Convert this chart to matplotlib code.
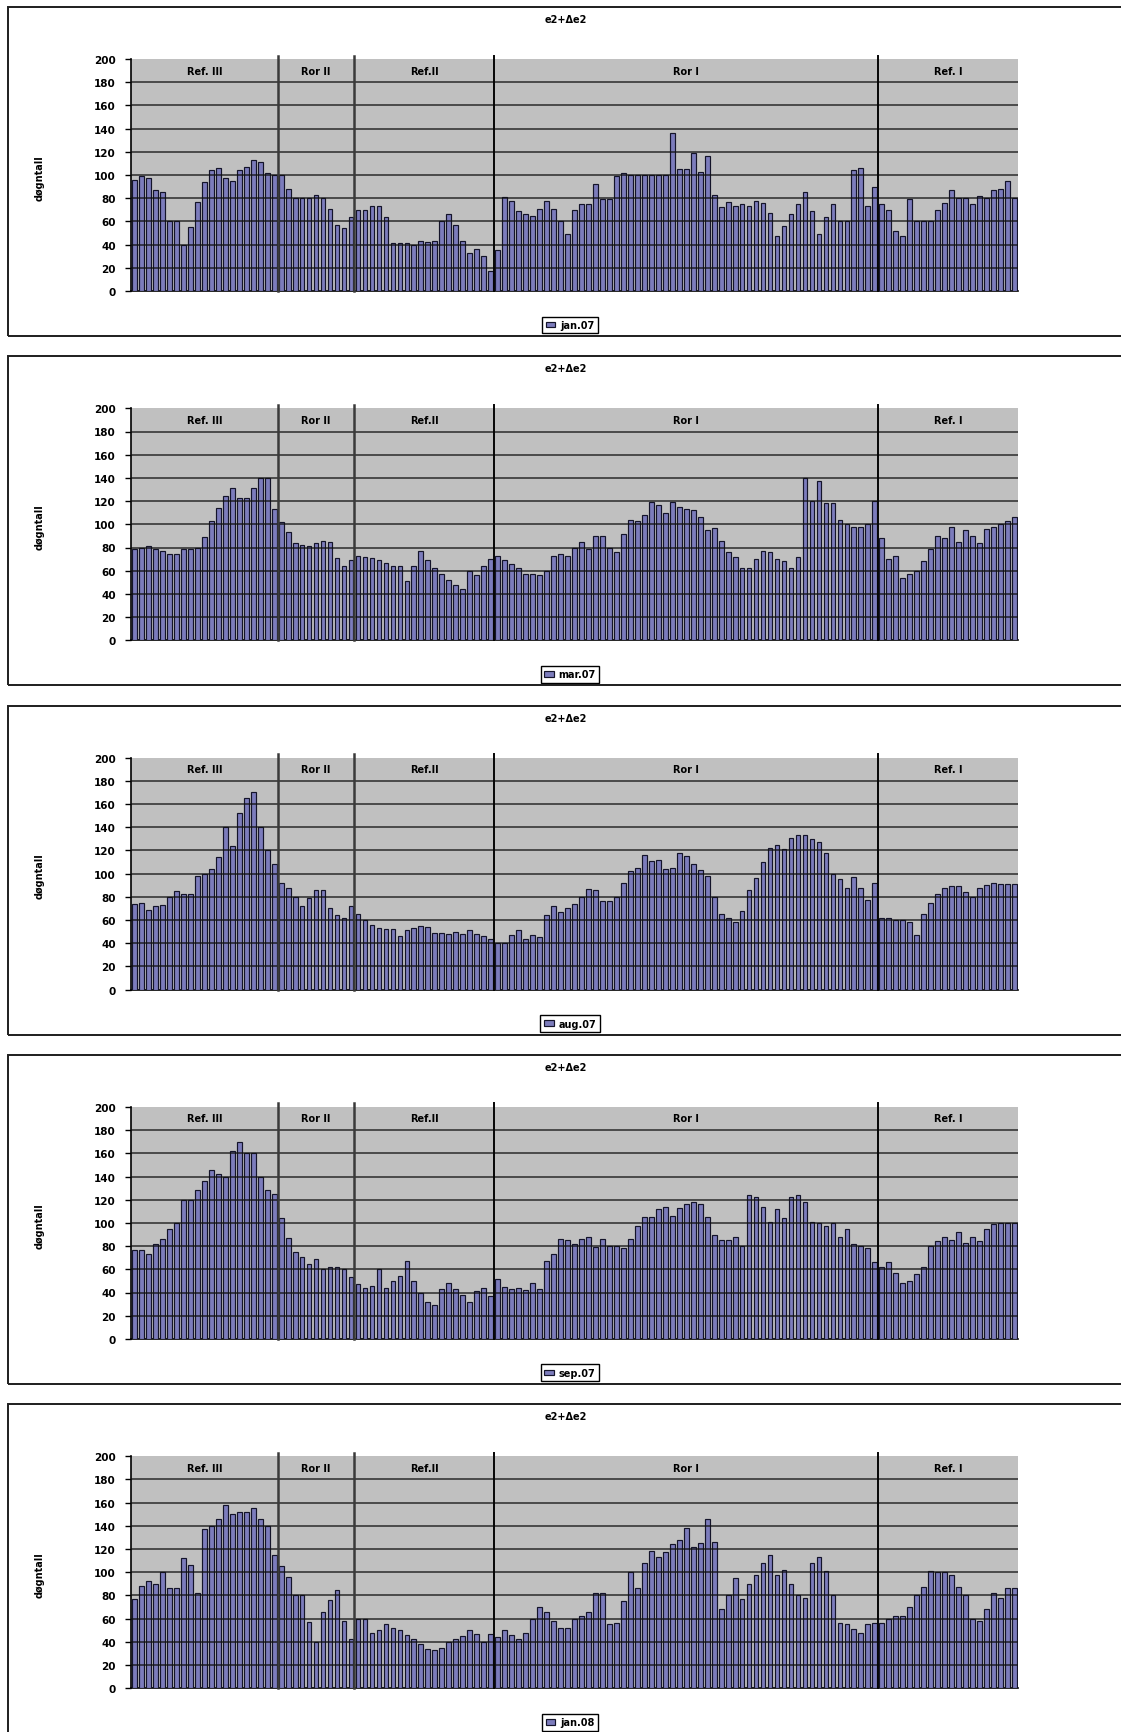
import matplotlib
matplotlib.use("Agg")
import matplotlib.pyplot as plt
from matplotlib.patches import Rectangle
import numpy as np

# Measurement sections along the route and how many points each holds
regions = ["Ref. III", "Ror II", "Ref.II", "Ror I", "Ref. I"]
region_sizes = [21, 11, 20, 55, 20]

months = ["jan.07", "mar.07", "aug.07", "sep.07", "jan.08"]
chart_title = "e2+Δe2"
y_label = "døgntall"
y_ticks = [0, 20, 40, 60, 80, 100, 120, 140, 160, 180, 200]

jan07 = [96, 99, 97, 87, 85, 60, 60, 40, 55, 77, 94, 104, 106, 97, 95, 104, 107, 113, 111, 102, 100,
         100, 88, 80, 80, 80, 83, 80, 71, 57, 54, 64,
         70, 70, 73, 73, 64, 41, 41, 41, 40, 43, 42, 43, 60, 66, 57, 43, 33, 36, 30, 17,
         35, 81, 78, 69, 66, 65, 71, 78, 71, 60, 49, 70, 75, 75, 92, 79, 79, 99, 102, 100,
         100, 100, 100, 100, 100, 136, 105, 105, 119, 103, 116, 83, 72, 77, 73, 75, 73, 78, 76, 67,
         47, 56, 66, 75, 85, 69, 49, 64, 75, 60, 60, 104, 106, 73, 90,
         75, 70, 52, 47, 79, 60, 60, 60, 70, 76, 87, 80, 80, 75, 82, 80, 87, 88, 95, 80]

mar07 = [79, 80, 81, 79, 77, 74, 74, 79, 79, 80, 89, 103, 114, 124, 131, 123, 123, 131, 140, 140, 113,
         102, 93, 84, 82, 81, 84, 86, 85, 71, 64, 69,
         73, 72, 71, 69, 67, 64, 64, 51, 64, 77, 69, 62, 57, 52, 48, 44, 60, 56, 64, 70,
         73, 69, 66, 62, 57, 57, 56, 60, 73, 74, 73, 80, 85, 79, 90, 90, 80, 76, 92, 104,
         103, 108, 119, 117, 110, 119, 115, 113, 112, 106, 95, 97, 86, 76, 72, 62, 62, 70, 77, 76,
         70, 68, 62, 72, 140, 120, 137, 118, 118, 104, 100, 98, 98, 100, 120,
         88, 70, 73, 54, 57, 60, 68, 79, 90, 88, 98, 85, 95, 90, 84, 96, 98, 100, 103, 106]

aug07 = [74, 75, 69, 72, 73, 80, 85, 82, 82, 98, 100, 104, 114, 140, 124, 152, 165, 170, 140, 120, 108,
         92, 88, 80, 72, 79, 86, 86, 70, 64, 62, 72,
         65, 60, 56, 53, 52, 52, 46, 51, 53, 55, 54, 49, 49, 48, 50, 48, 51, 48, 46, 44,
         40, 40, 47, 51, 44, 47, 45, 64, 72, 67, 70, 74, 80, 87, 86, 76, 76, 80, 92, 102,
         105, 116, 111, 112, 104, 105, 118, 115, 108, 103, 98, 80, 65, 62, 58, 68, 86, 96, 110, 122,
         125, 121, 131, 133, 133, 130, 127, 118, 100, 95, 88, 97, 88, 77, 92,
         62, 62, 60, 60, 58, 47, 65, 75, 82, 88, 89, 89, 84, 80, 88, 90, 92, 91, 91, 91]

sep07 = [77, 77, 73, 82, 86, 95, 100, 120, 120, 128, 136, 146, 142, 140, 162, 170, 160, 160, 140, 128, 125,
         104, 87, 75, 71, 65, 69, 60, 62, 62, 60, 53,
         47, 44, 46, 60, 44, 50, 54, 67, 50, 40, 32, 29, 43, 48, 43, 38, 32, 41, 44, 37,
         52, 45, 43, 44, 42, 48, 43, 67, 73, 86, 85, 82, 86, 88, 79, 86, 80, 80, 78, 86,
         97, 105, 105, 112, 114, 106, 113, 116, 118, 116, 105, 90, 85, 85, 88, 80, 124, 122, 114, 101,
         112, 104, 122, 124, 118, 101, 100, 97, 100, 88, 95, 82, 80, 78, 66,
         62, 66, 57, 48, 50, 56, 62, 80, 84, 88, 85, 92, 83, 88, 84, 95, 99, 100, 100, 100]

jan08 = [77, 88, 92, 90, 100, 86, 86, 112, 106, 82, 137, 140, 146, 158, 150, 152, 152, 155, 146, 140, 115,
         105, 96, 80, 80, 57, 40, 66, 76, 85, 58, 42,
         60, 60, 48, 50, 55, 52, 50, 46, 42, 38, 34, 33, 35, 40, 42, 45, 50, 47, 40, 47,
         44, 50, 46, 42, 48, 60, 70, 66, 58, 52, 52, 60, 62, 66, 82, 82, 55, 56, 75, 100,
         86, 108, 118, 113, 117, 124, 128, 138, 122, 125, 146, 126, 68, 80, 95, 77, 90, 98, 108, 115,
         98, 102, 90, 80, 78, 108, 113, 101, 80, 56, 55, 51, 48, 55, 56,
         56, 60, 62, 62, 70, 80, 87, 101, 100, 100, 98, 87, 80, 60, 58, 68, 82, 78, 86, 86]

series = [jan07, mar07, aug07, sep07, jan08]

plt.rcParams["font.family"] = ["DejaVu Sans"]
plt.rcParams["font.weight"] = "bold"

W, H = 1121, 1733
fig = plt.figure(figsize=(W / 100, H / 100), dpi=100)
fig.patch.set_facecolor("white")

PANEL_H = 349.3
bounds = np.cumsum(region_sizes)
dividers = bounds[:-1] - 0.5
starts = np.concatenate([[0], bounds[:-1]])
centers = (starts + bounds - 1) / 2.0

for k, (vals, month) in enumerate(zip(series, months)):
    off = k * PANEL_H
    # outer chart frame (open to the right edge)
    fig.add_artist(Rectangle((8 / W, 1 - (337 + off) / H), (W + 40) / W, 329 / H,
                             transform=fig.transFigure, fill=False,
                             ec="#1e1e1e", lw=1.4))

    ax = fig.add_axes([131 / W, 1 - (292 + off) / H, 887 / W, 232 / H])
    ax.set_facecolor("#c0c0c0")
    x = np.arange(len(vals))
    ax.bar(x, vals, width=0.68, color="#7c7cbc", edgecolor="#14142a",
           linewidth=0.85, zorder=3, label=month)
    for t in y_ticks[1:-1]:
        ax.axhline(t, color="#101010", lw=1.1, zorder=4, alpha=0.85)

    for i, d in enumerate(dividers):
        ax.plot([d, d], [0, 203], color="#3a3a3a" if i < 2 else "#050505",
                lw=1.8 if i < 2 else 1.4, zorder=5, clip_on=False)
    for c, name in zip(centers, regions):
        ax.text(c, 190, name, ha="center", va="center", fontsize=7,
                fontweight="bold", zorder=6)

    ax.set_xlim(-0.5, len(vals) - 0.5)
    ax.set_ylim(0, 200)
    ax.set_yticks(y_ticks)
    ax.set_yticklabels([str(t) for t in y_ticks], fontsize=7.5, fontweight="bold")
    ax.set_xticks([])
    ax.tick_params(axis="y", length=4, width=1.0, pad=7, color="black")
    for side in ("top", "right"):
        ax.spines[side].set_visible(False)
    for side in ("left", "bottom"):
        ax.spines[side].set_color("black")
        ax.spines[side].set_linewidth(1.2)

    fig.text(566 / W, 1 - (20 + off) / H, chart_title, ha="center", va="center",
             fontsize=7, fontweight="bold")
    fig.text(40 / W, 1 - (178 + off) / H, y_label, rotation=90, ha="center",
             va="center", fontsize=7, fontweight="bold")

    leg = ax.legend(loc="center", bbox_to_anchor=(570 / W, 1 - (326 + off) / H),
                    bbox_transform=fig.transFigure, frameon=True, fancybox=False,
                    framealpha=1, edgecolor="black", fontsize=7,
                    handlelength=1.0, handleheight=0.55, handletextpad=0.5,
                    borderpad=0.35)
    leg.get_frame().set_linewidth(1.0)

fig.savefig("out.png", dpi=100, facecolor="white")
